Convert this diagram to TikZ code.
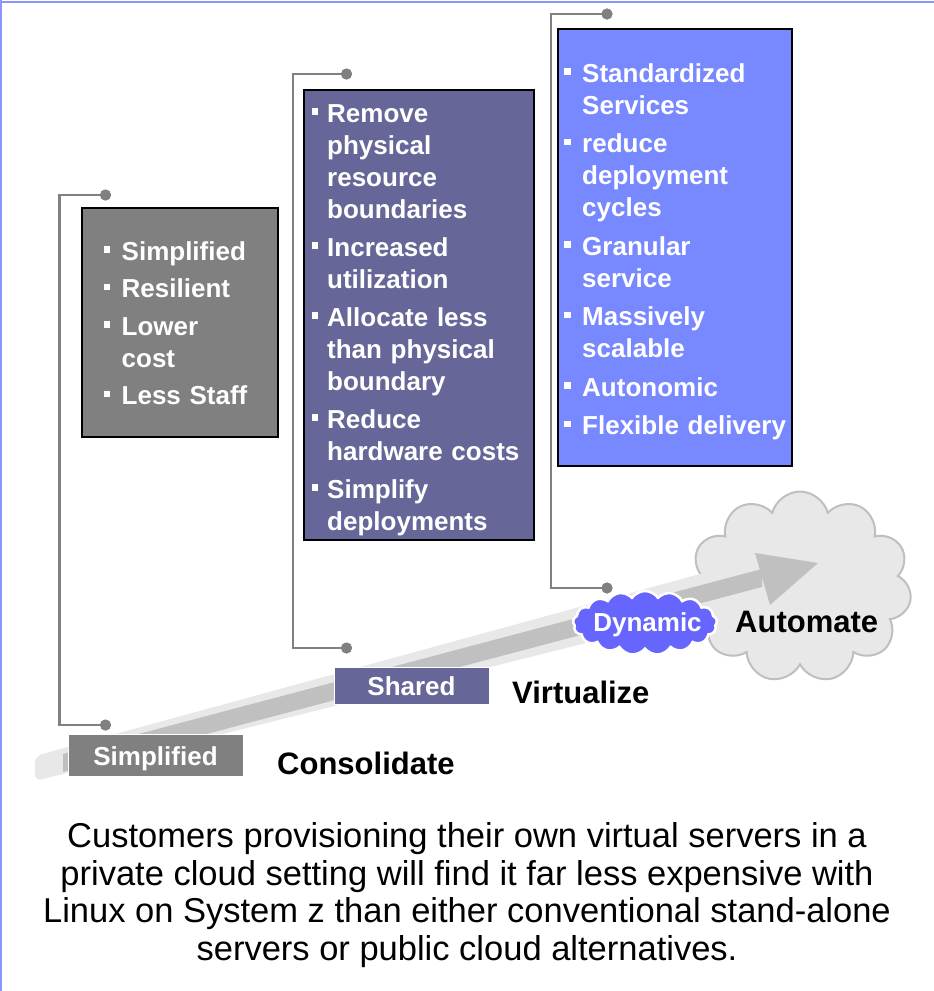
\documentclass[tikz,border=0pt]{standalone}
\usepackage{fontspec}
\setmainfont{Liberation Sans}
\usetikzlibrary{shapes.symbols}

\definecolor{framecol}{RGB}{140,150,255}
\definecolor{linkgrey}{RGB}{128,128,128}
\definecolor{consgrey}{RGB}{128,128,128}
\definecolor{virtpurple}{RGB}{102,102,153}
\definecolor{autoblue}{RGB}{120,136,255}
\definecolor{dynblue}{RGB}{102,102,255}
\definecolor{bandlight}{RGB}{232,232,232}
\definecolor{banddark}{RGB}{192,192,192}
\definecolor{cloudfill}{RGB}{232,232,232}
\definecolor{cloudline}{RGB}{191,191,191}

% bullet list item with a small square marker and a hanging indent
\newlength\markwd
\setlength\markwd{18pt}
\newcommand\bitem[1]{\hangindent=\markwd\hangafter=1\noindent
  \makebox[\markwd][l]{\rule[7.5pt]{6.5pt}{6.5pt}}#1\par}

\begin{document}
\begin{tikzpicture}[x=1pt,y=-1pt,
  stage/.style={draw=black, line width=2pt, inner sep=0},
  items/.style={text=white, inner sep=0, anchor=base west,
    font=\fontsize{26}{32}\selectfont\bfseries},
  tag/.style={draw=white, line width=1pt, inner sep=0},
  tagtext/.style={text=white, inner sep=0, anchor=base,
    font=\fontsize{26}{30}\selectfont\bfseries},
  phase/.style={font=\fontsize{31}{36}\selectfont\bfseries, anchor=base west, inner sep=0},
  caption/.style={font=\fontsize{34.5}{38}\selectfont, anchor=base, inner sep=0},
  knob/.style={circle, fill=linkgrey, minimum size=11pt, inner sep=0},
  link/.style={draw=linkgrey, line width=2.6pt}
]
\useasboundingbox (0,0) rectangle (934,991);

% outer frame (top and left edges)
\draw[framecol, line width=2.5pt] (0,2) -- (934,2);
\draw[framecol, line width=2.5pt] (1,0) -- (1,991);

% stage boxes
\node[stage, fill=consgrey, minimum width=196pt, minimum height=229pt] (box1) at (180,322.5) {};
\node[stage, fill=virtpurple, minimum width=230pt, minimum height=450pt] (box2) at (419,315) {};
\node[stage, fill=autoblue, minimum width=233.5pt, minimum height=437pt] (box3) at (674.75,247.5) {};

% bullet lists
\node[items, text width=170pt] (list1) at (103.5,260) {%
  \setlength\parskip{5.5pt}%
  \bitem{Simplified}\bitem{Resilient}\bitem{Lower\newline cost}\bitem{Less Staff}};
\node[items, text width=222pt] (list2) at (311.5,122) {%
  \setlength\markwd{15.5pt}\setlength\parskip{6pt}%
  \bitem{Remove\newline physical\newline resource\newline boundaries}%
  \bitem{Increased\newline utilization}%
  \bitem{Allocate less\newline than physical\newline boundary}%
  \bitem{Reduce\newline hardware costs}%
  \bitem{Simplify\newline deployments}};
\node[items, text width=228pt] (list3) at (564,82) {%
  \setlength\parskip{6.5pt}%
  \bitem{Standardized\newline Services}%
  \bitem{reduce\newline deployment\newline cycles}%
  \bitem{Granular\newline service}%
  \bitem{Massively\newline scalable}%
  \bitem{Autonomic}%
  \bitem{Flexible delivery}};

% target cloud
\node[cloud, cloud puffs=11, aspect=1.15, minimum width=223pt, minimum height=191pt,
      fill=cloudfill, draw=cloudline, line width=2pt, inner sep=0] (bigcloud) at (800,587) {};

% rising arrow: light face, darker core and head
\fill[bandlight, rounded corners=7pt] (35,756) -- (762,557) -- (762,599) -- (35,781) -- cycle;
\fill[banddark] (63,754) -- (762,569) -- (762,587) -- (63,772) -- cycle;
\fill[banddark] (755,553) -- (818,563) -- (770,605) -- cycle;

% brackets linking each box to its stage
\coordinate (k1) at (59.5,195);
\coordinate (k2) at (293,74);
\coordinate (k3) at (551,14);
\node[knob] (d1a) at (105.5,195) {};
\node[knob] (d1b) at (105.5,725) {};
\node[knob] (d2a) at (346.5,74) {};
\node[knob] (d2b) at (346.5,648) {};
\node[knob] (d3a) at (607,14) {};
\node[knob] (d3b) at (607,588) {};
\draw[link] (d1a.center) -- (k1) |- (d1b.center);
\draw[link] (d2a.center) -- (k2) |- (d2b.center);
\draw[link] (d3a.center) -- (k3) |- (d3b.center);
\node[knob] at (d1a) {};
\node[knob] at (d1b) {};
\node[knob] at (d2a) {};
\node[knob] at (d2b) {};
\node[knob] at (d3a) {};
\node[knob] at (d3b) {};

% stage tags
\node[tag, fill=consgrey, minimum width=175pt, minimum height=42pt] (tag1) at (155.5,755) {};
\node[tagtext] (tag1t) at (155.5,765) {Simplified};
\node[tag, fill=virtpurple, minimum width=155pt, minimum height=37pt] (tag2) at (411.5,685.5) {};
\node[tagtext] (tag2t) at (411.5,695) {Shared};
\node[cloud, cloud puffs=17, cloud puff arc=110, aspect=2.4, minimum width=144pt, minimum height=64pt,
      fill=dynblue, draw=white, line width=2.5pt, inner sep=0] (tag3) at (645,623) {};
\node[tagtext] (tag3t) at (647.5,631.5) {Dynamic};

% phase names
\node[phase] (ph1) at (277,774) {Consolidate};
\node[phase] (ph2) at (512,703) {Virtualize};
\node[phase] (ph3) at (735,632) {Automate};

% caption
\node[caption] (c1) at (467,847) {Customers provisioning their own virtual servers in a};
\node[caption] (c2) at (467,885) {private cloud setting will find it far less expensive with};
\node[caption] (c3) at (467,922) {Linux on System z than either conventional stand-alone};
\node[caption] (c4) at (467,960) {servers or public cloud alternatives.};
\end{tikzpicture}
\end{document}
